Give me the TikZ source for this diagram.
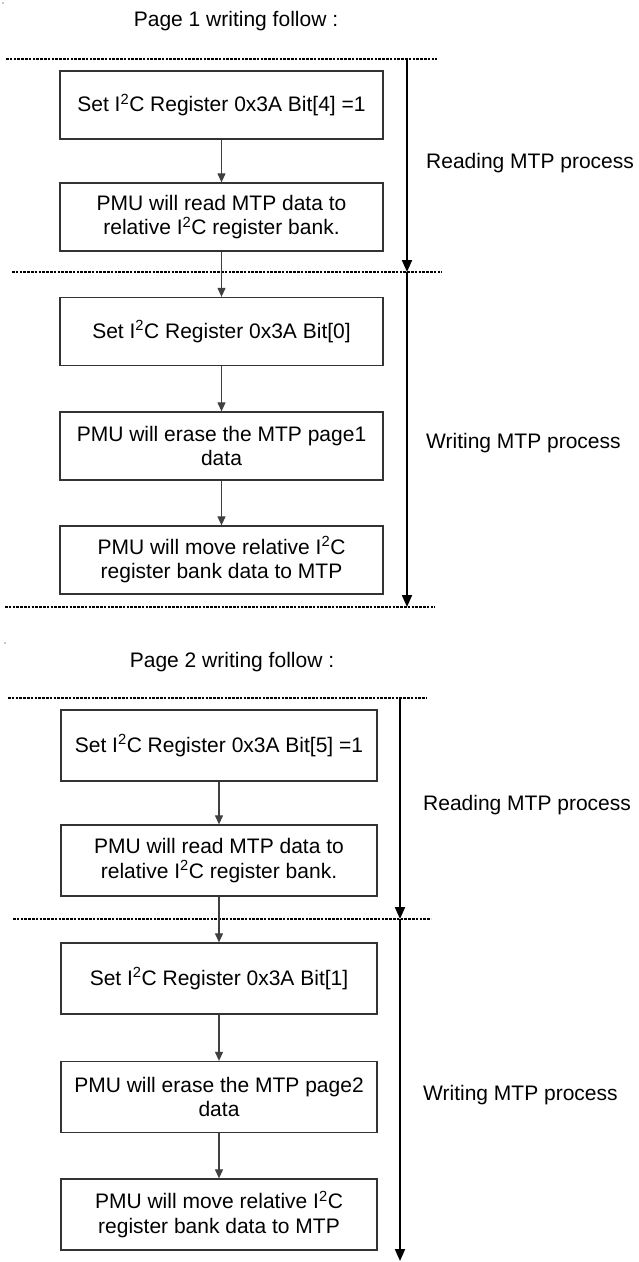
\documentclass[tikz,border=0pt]{standalone}
\usepackage{fontspec}
\setmainfont{Liberation Sans}
\usepackage{tikz}
\usetikzlibrary{arrows.meta}
\tikzstyle{stepbox} = [draw=black!80, line width=1.3pt, minimum width=323pt, minimum height=68pt, align=center, inner sep=0pt]
\tikzstyle{arrow} = [line width=1.1pt, draw=black!75, -{Triangle[width=8pt,length=9pt]}]
\tikzstyle{phase} = [line width=2pt, -{Triangle[width=10pt,length=12pt]}]
\tikzstyle{sep} = [line width=2.4pt, dash pattern=on 2.6pt off 1.2pt]
\tikzstyle{sidetext} = [anchor=west, inner sep=0pt]

\begin{document}
\begin{tikzpicture}[x=1pt, y=1pt, node distance=114.5pt, font=\fontsize{21}{24.5}\selectfont]
    \useasboundingbox (0,0) rectangle (638,-1262);
    \fill[black!45] (3,-3) circle (0.8pt);
    \fill[black!45] (5,-643) circle (0.8pt);

    % Page 1
    \node (title1) at (236,-21) {Page 1 writing follow :};
    \node[stepbox] (p1a) at (221.5,-105) {Set I\textsuperscript{2}C Register 0x3A Bit[4] =1};
    \node[stepbox, below of=p1a, node distance=112pt] (p1b) {PMU will read MTP data to\\relative I\textsuperscript{2}C register bank.};
    \node[stepbox, below of=p1b] (p1c) {Set I\textsuperscript{2}C Register 0x3A Bit[0]};
    \node[stepbox, below of=p1c] (p1d) {PMU will erase the MTP page1\\data};
    \node[stepbox, below of=p1d, node distance=114pt] (p1e) {PMU will move relative I\textsuperscript{2}C\\register bank data to MTP};

    \coordinate (d1w) at (6,-59);    \coordinate (d1e) at (437,-59);
    \coordinate (d2w) at (12,-272);  \coordinate (d2e) at (442,-272);
    \coordinate (d3w) at (5,-607);   \coordinate (d3e) at (435,-607);
    \draw[sep] (d1w) -- (d1e);
    \draw[sep] (d2w) -- (d2e);
    \draw[sep] (d3w) -- (d3e);

    % Edges
    \draw[arrow] (p1a) -- (p1b);
    \draw[arrow] (p1b) -- (p1c);
    \draw[arrow] (p1c) -- (p1d);
    \draw[arrow] (p1d) -- (p1e);

    \coordinate (v1a) at (407,-59);
    \coordinate (v1b) at (407,-272);
    \coordinate (v1c) at (407,-607);
    \draw[phase] (v1a) -- (v1b);
    \draw[phase] (v1b) -- (v1c);
    \node[sidetext] (read1) at (426,-163) {Reading MTP process};
    \node[sidetext] (write1) at (426,-443) {Writing MTP process};

    % Page 2
    \node (title2) at (232,-662) {Page 2 writing follow :};
    \node[stepbox, minimum width=316pt, minimum height=71pt] (p2a) at (219,-745.5) {Set I\textsuperscript{2}C Register 0x3A Bit[5] =1};
    \node[stepbox, minimum width=316pt, minimum height=71pt, below of=p2a, node distance=115pt] (p2b) {PMU will read MTP data to\\relative I\textsuperscript{2}C register bank.};
    \node[stepbox, minimum width=316pt, minimum height=71pt, below of=p2b, node distance=118pt] (p2c) {Set I\textsuperscript{2}C Register 0x3A Bit[1]};
    \node[stepbox, minimum width=316pt, minimum height=71pt, below of=p2c, node distance=118.5pt] (p2d) {PMU will erase the MTP page2\\data};
    \node[stepbox, minimum width=316pt, minimum height=71pt, below of=p2d, node distance=117.5pt] (p2e) {PMU will move relative I\textsuperscript{2}C\\register bank data to MTP};

    \coordinate (d4w) at (8,-698);   \coordinate (d4e) at (427,-698);
    \coordinate (d5w) at (13,-919);  \coordinate (d5e) at (431,-919);
    \draw[sep] (d4w) -- (d4e);
    \draw[sep] (d5w) -- (d5e);

    \draw[arrow] (p2a) -- (p2b);
    \draw[arrow] (p2b) -- (p2c);
    \draw[arrow] (p2c) -- (p2d);
    \draw[arrow] (p2d) -- (p2e);

    \coordinate (v2a) at (400,-698);
    \coordinate (v2b) at (400,-919);
    \coordinate (v2c) at (400,-1261);
    \draw[phase] (v2a) -- (v2b);
    \draw[phase] (v2b) -- (v2c);
    \node[sidetext] (read2) at (423,-805) {Reading MTP process};
    \node[sidetext] (write2) at (423,-1095) {Writing MTP process};
\end{tikzpicture}
\end{document}
